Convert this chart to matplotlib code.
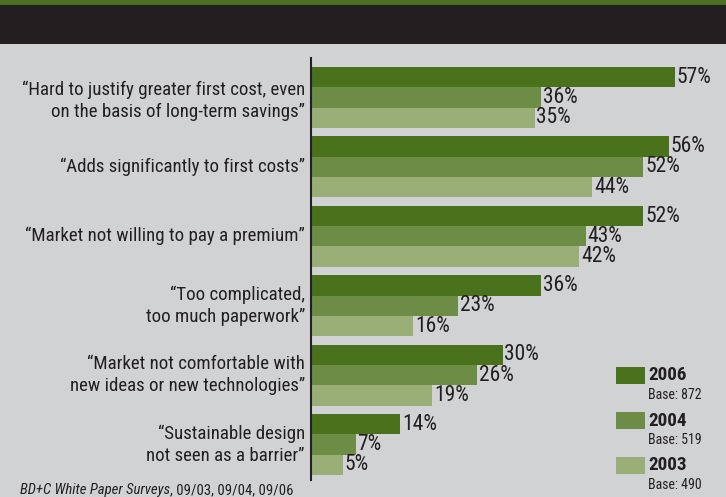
import matplotlib
matplotlib.use("Agg")
import matplotlib.pyplot as plt
from matplotlib import font_manager as fm
from matplotlib.patches import Rectangle

# ---- data ----
categories = [
    "\u201cHard to justify greater first cost, even\non the basis of long-term savings\u201d",
    "\u201cAdds significantly to first costs\u201d",
    "\u201cMarket not willing to pay a premium\u201d",
    "\u201cToo complicated,\ntoo much paperwork\u201d",
    "\u201cMarket not comfortable with\nnew ideas or new technologies\u201d",
    "\u201cSustainable design\nnot seen as a barrier\u201d",
]
years = ["2006", "2004", "2003"]
bases = ["Base: 872", "Base: 519", "Base: 490"]
values_2006 = [57, 56, 52, 36, 30, 14]
values_2004 = [36, 52, 43, 23, 26, 7]
values_2003 = [35, 44, 42, 16, 19, 5]
source_italic = "BD+C White Paper Surveys"
source_rest = ", 09/03, 09/04, 09/06"

series = [values_2006, values_2004, values_2003]
colors = ["#4a711c", "#6d8c45", "#9aae78"]
BG = "#d1d2d4"
INK = "#231f20"

names = {f.name for f in fm.fontManager.ttflist}
cands = ["Roboto Condensed", "Liberation Sans Narrow", "DejaVu Sans Condensed"]
FONT = next((c for c in cands if c in names), "DejaVu Sans")
plt.rcParams["font.family"] = [FONT, "DejaVu Sans"]

W, H = 726, 497
fig = plt.figure(figsize=(W / 100, H / 100), dpi=100, facecolor=BG)

def fx(px):
    return px / W

def fy(py):
    return 1 - py / H

# header bands
fig.patches.append(Rectangle((0, fy(5)), 1, 5 / H, transform=fig.transFigure,
                             facecolor="#4a6f1e", edgecolor="none", zorder=0))
fig.patches.append(Rectangle((0, fy(44)), 1, 39 / H, transform=fig.transFigure,
                             facecolor=INK, edgecolor="none", zorder=0))

# axes: left edge at x=311, top 58, bottom 480
ax_left, ax_top, ax_bot = 311, 58, 480
ax = fig.add_axes([fx(ax_left), fy(ax_bot), 1 - fx(ax_left), (ax_bot - ax_top) / H])
ax.set_facecolor("none")
pitch = 69.4
bar_h = 20.3 / pitch
first_center = 67 + 30.5
ax.set_ylim((ax_bot - first_center) / pitch, -(first_center - ax_top) / pitch)
px_per_pct = 6.386
ax.set_xlim(0, (W - ax_left) / px_per_pct)

n = len(categories)
for j, (vals, col) in enumerate(zip(series, colors)):
    ys = [i + (j - 1) * bar_h for i in range(n)]
    ax.barh(ys, vals, height=bar_h, color=col, edgecolor="none", zorder=2)
    for y, v in zip(ys, vals):
        ax.text(v + 0.3, y, f"{v}%", va="center", ha="left", fontsize=15.5,
                color=INK, zorder=3)

for i, cat in enumerate(categories):
    off = 0.05 if i == 0 else 0.0
    ax.text(-0.95, i + off, cat, ha="right", va="center", fontsize=13.6, color=INK,
            linespacing=1.28, multialignment="right")

for s in ["top", "right", "bottom"]:
    ax.spines[s].set_visible(False)
ax.spines["left"].set_color(INK)
ax.spines["left"].set_linewidth(1.5)
ax.set_xticks([])
ax.set_yticks([])

# legend
leg_tops = [367, 412, 457]
for yr, base, col, t in zip(years, bases, colors, leg_tops):
    fig.patches.append(Rectangle((fx(616), fy(t + 17)), 29 / W, 17 / H,
                                 transform=fig.transFigure, facecolor=col,
                                 edgecolor="none"))
    fig.text(fx(648), fy(t + 8.5), yr, fontsize=13.8, fontweight="bold",
             color=INK, va="center", ha="left")
    fig.text(fx(648), fy(t + 28), base, fontsize=10, color=INK,
             va="center", ha="left")

# source
t1 = fig.text(fx(20), fy(494), source_italic, fontsize=10.6, style="italic",
              color=INK, va="baseline", ha="left")
fig.canvas.draw()
bb = t1.get_window_extent()
fig.text(bb.x1 / W, fy(494), source_rest, fontsize=10.6, color=INK,
         va="baseline", ha="left")

fig.savefig("out.png", dpi=100, facecolor=BG)
